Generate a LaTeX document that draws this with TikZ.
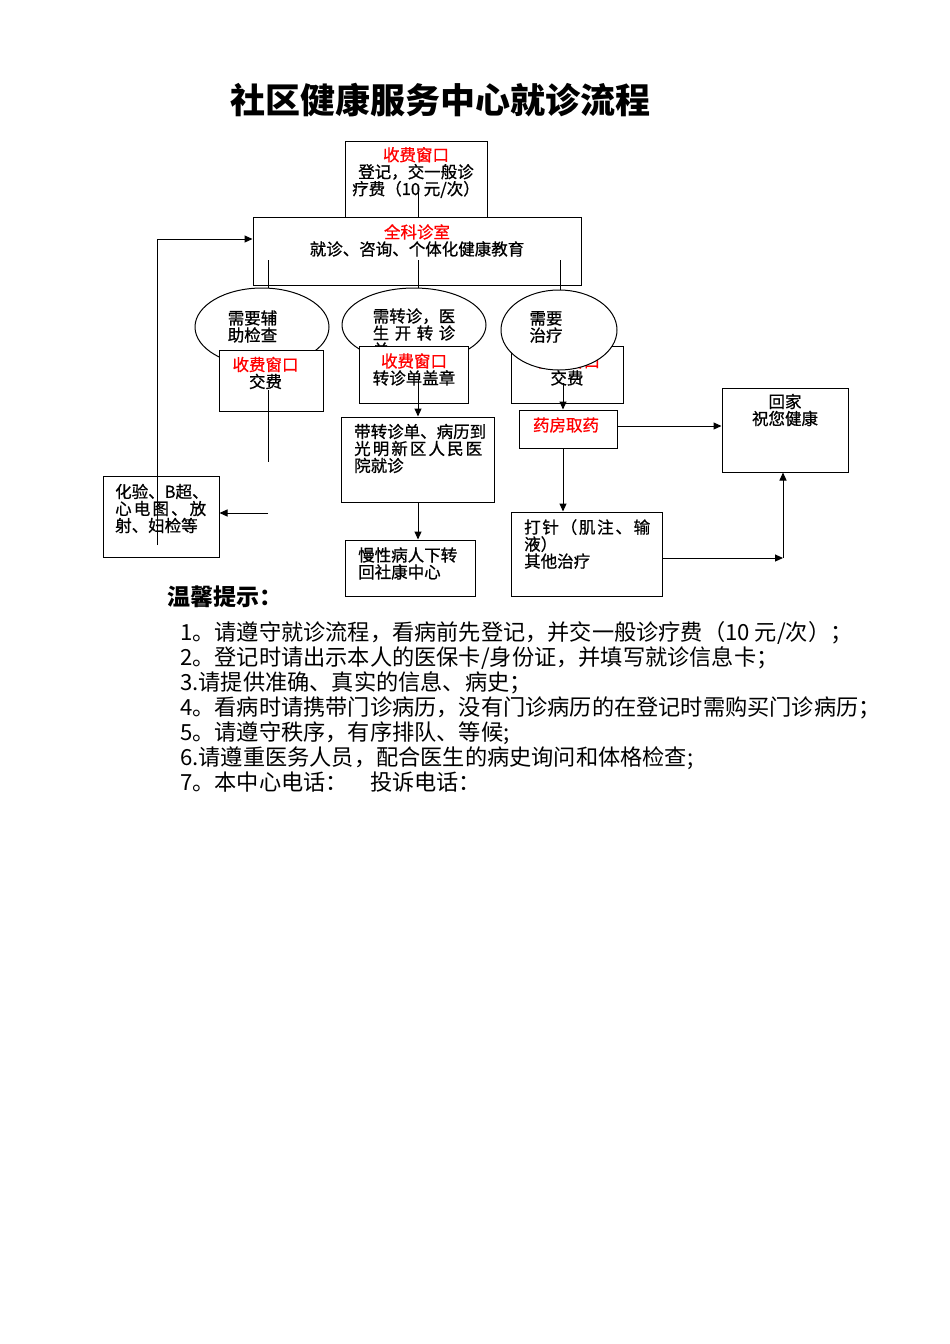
\documentclass[tikz,border=0pt]{standalone}
\usepackage{fontspec}
\setmainfont{Noto Sans CJK SC}
\newfontfamily\boxfont[FakeBold=0.8]{Noto Sans CJK SC}
\usetikzlibrary{arrows.meta,shapes.geometric}
\begin{document}
\begin{tikzpicture}[x=1pt,y=-1pt,
  box/.style={draw, fill=white, line width=1pt, inner sep=0pt},
  oval/.style={ellipse, draw, fill=white, line width=1pt, inner sep=0pt},
  txt/.style={inner sep=0pt, font=\boxfont\fontsize{16.5}{17}\selectfont},
  conn/.style={line width=1pt},
  arr/.style={line width=1pt, -{Triangle[length=8pt,width=7pt]}},
]
\fill[white] (0,0) rectangle (950,1344);
\useasboundingbox (0,0) rectangle (950,1344);

% title
\node[inner sep=0pt, font=\fontsize{35}{40}\selectfont\bfseries] (title) at (440,100) {社区健康服务中心就诊流程};

% top boxes
\node[box, minimum width=142pt, minimum height=76pt] (b1) at (416,179) {};
\node[txt, align=center] (t1) at (416,172.5) {\textcolor{red}{收费窗口}\\登记，交一般诊\\疗费（10 元/次）};
\node[box, minimum width=328pt, minimum height=68pt] (b2) at (417,251) {};
\node[txt, align=center] (t2) at (417,240.5) {\textcolor{red}{全科诊室}\\就诊、咨询、个体化健康教育};

\coordinate (c1) at (418,190);
\draw[conn] (c1) -- (c1 |- b2.north);

% lines down to ellipses
\coordinate (d1) at (268,260);
\coordinate (d2) at (418,260);
\coordinate (d3) at (560,260);
\draw[conn] (d1) -- (268,289);
\draw[conn] (d2) -- (418,288);
\draw[conn] (d3) -- (560,290);

% third branch box under ellipse
\node[box, minimum width=112pt, minimum height=57pt] (p3) at (567,374.5) {};
\node[txt, align=center] (tp3) at (567,369.5) {\textcolor{red}{收费窗口}\\交费};

% ellipses
\node[oval, minimum width=134pt, minimum height=78pt] (e1) at (262,327) {};
\node[txt, align=left] (te1) at (252.5,326.5) {\fontsize{16.5}{19}\selectfont 需要辅\\助检查};
\node[oval, minimum width=144pt, minimum height=74pt] (e2) at (414,325) {};
\node[txt, align=left] (te2) at (414,333) {需转诊，医\\\makebox[5em][s]{生\hfill 开\hfill 转\hfill 诊}\\单};
\node[oval, minimum width=116pt, minimum height=80pt] (e3) at (559,330) {};
\node[txt, align=left] (te3) at (546,327) {\fontsize{16.5}{20}\selectfont 需要\\治疗};

% fee boxes over ellipses 1 and 2
\node[box, minimum width=104pt, minimum height=61pt] (p1) at (271,380.5) {};
\node[txt, align=center] (tp1) at (265.5,373) {\textcolor{red}{收费窗口}\\交费};
\node[box, minimum width=109pt, minimum height=57pt] (p2) at (413.5,374.5) {};
\node[txt, align=center] (tp2) at (414,369.5) {\textcolor{red}{收费窗口}\\转诊单盖章};

% lab box
\node[box, minimum width=116pt, minimum height=81pt] (lab) at (161,516.5) {};
\node[txt, align=left, anchor=west] (tlab) at (115,508.5) {\fontsize{16.5}{17.5}\selectfont
  \makebox[91pt][s]{化\hfill 验\hfill 、B\hfill 超\hfill 、}\\
  \makebox[91pt][s]{心\hfill 电\hfill 图\hfill 、\hfill 放}\\
  射、妇检等};

% referral boxes
\node[box, minimum width=153pt, minimum height=85pt] (ref) at (417.5,459.5) {};
\node[txt, align=left, anchor=west] (tref) at (354,448.5) {
  \makebox[128pt][s]{带\hfill 转\hfill 诊\hfill 单\hfill 、\hfill 病\hfill 历\hfill 到}\\
  \makebox[128pt][s]{光\hfill 明\hfill 新\hfill 区\hfill 人\hfill 民\hfill 医}\\
  院就诊};
\node[box, minimum width=130pt, minimum height=56pt] (back) at (410,568) {};
\node[txt, align=left, anchor=west] (tback) at (358,563.5) {慢性病人下转\\回社康中心};

% pharmacy, home, injection
\node[box, minimum width=98pt, minimum height=38pt] (pharm) at (568,429) {};
\node[txt, text=red] (tpharm) at (566,425) {药房取药};
\node[box, minimum width=126pt, minimum height=84pt] (home) at (785,430) {};
\node[txt, align=center] (thome) at (785,410) {回家\\祝您健康};
\node[box, minimum width=151pt, minimum height=84pt] (inj) at (586.5,554) {};
\node[txt, align=left, anchor=west] (tinj) at (524,544) {
  \makebox[126pt][s]{打\hfill 针\hfill （\hfill 肌\hfill 注\hfill 、\hfill 输}\\
  液）\\
  其他治疗};

% connectors
\coordinate (c5) at (268,390);
\coordinate (c6) at (268,462);
\draw[conn] (c5) -- (c6);
\coordinate (c7) at (268,513);
\draw[arr] (c7) -- (c7 -| lab.east);
\coordinate (c8) at (157,545);
\draw[arr] (c8) |- ([yshift=12pt]b2.west);

\coordinate (c9) at (418,380);
\draw[arr] (c9) -- (c9 |- ref.north);
\coordinate (c10) at (418,502);
\draw[arr] (c10) -- (c10 |- back.north);

\coordinate (c11) at (563,383);
\draw[arr] (c11) -- (c11 |- pharm.north);
\coordinate (c12) at (563,448);
\draw[arr] (c12) -- (c12 |- inj.north);
\coordinate (c13) at (617,426);
\draw[arr] (c13) -- (c13 -| home.west);
\coordinate (c14) at (662,558);
\coordinate (corner) at (783,558);
\draw[arr] (c14) -- (corner);
\draw[arr] (corner) -- (corner |- home.south);

% tips
\node[inner sep=0pt, anchor=west, font=\fontsize{23}{26}\selectfont\bfseries] (tiphead) at (167,597) {温馨提示：};
\node[inner sep=0pt, anchor=west, align=left, font=\fontsize{22.2}{25}\selectfont] (tips) at (180,707) {
1。请遵守就诊流程，看病前先登记，并交一般诊疗费（10 元/次）；\\
2。登记时请出示本人的医保卡/身份证，并填写就诊信息卡；\\
3.请提供准确、真实的信息、病史；\\
4。看病时请携带门诊病历，没有门诊病历的在登记时需购买门诊病历；\\
5。请遵守秩序，有序排队、等候;\\
6.请遵重医务人员，配合医生的病史询问和体格检查;\\
7。本中心电话：\quad 投诉电话：};
\end{tikzpicture}
\end{document}
